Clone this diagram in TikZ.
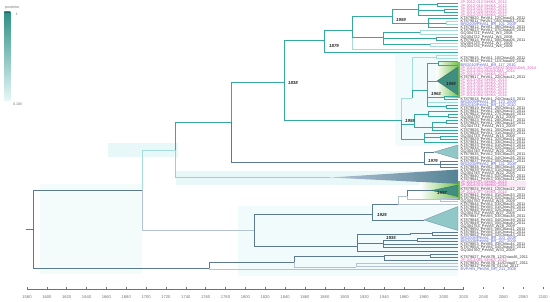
\documentclass[tikz,border=0pt]{standalone}
\usepackage{fontspec}
\setmainfont{Liberation Sans}
\usetikzlibrary{positioning}
\definecolor{hiteal}{HTML}{35A99D}
\definecolor{midslate}{HTML}{5C7A92}
\definecolor{loslate}{HTML}{B4C2D6}
\definecolor{paleteal}{HTML}{A3DCD8}
\definecolor{glow}{HTML}{E8F8F8}
\definecolor{leafgreen}{HTML}{6EBE46}
\definecolor{cladeteal}{HTML}{3F8E80}
\definecolor{softteal}{HTML}{8FC8C7}
\definecolor{pk}{HTML}{D957B8}
\definecolor{bl}{HTML}{5560D2}
\definecolor{dk}{HTML}{3C3C3C}
\definecolor{axisgray}{HTML}{707070}

\begin{document}
\begin{tikzpicture}[x=1pt,y=-1pt,
  hi branch/.style={draw=hiteal,line width=0.9pt},
  mid branch/.style={draw=midslate,line width=0.9pt},
  lo branch/.style={draw=loslate,line width=0.9pt},
  pale branch/.style={draw=paleteal,line width=0.9pt},
  hpd/.style={fill=glow,draw=none},
  clade tri/.style={fill=softteal,draw=midslate!80,line width=0.4pt},
  green tri/.style={fill=cladeteal,draw=cladeteal!80!black,line width=0.4pt},
  age/.style={font=\fontsize{4.4}{5}\selectfont\bfseries\itshape,inner sep=0pt,text=black!85},
  tip label/.style={font=\fontsize{3.9}{3.9}\selectfont,inner sep=0pt},
  axis text/.style={font=\fontsize{4.1}{5}\selectfont,text=axisgray,inner sep=0pt}]
\useasboundingbox (0,0) rectangle (550,302);

% age bars and highlights
\fill[hpd,opacity=0.5] (40,184) rectangle (142,274);
\fill[hpd] (108,143) rectangle (178,157);
\fill[hpd] (176,171) rectangle (458,185);
\fill[hpd,opacity=0.6] (238,206) rectangle (458,276);
\fill[hpd,opacity=0.6] (395,54) rectangle (458,146);
\shade[left color=white,right color=leafgreen] (436,63) rectangle (460,98);
\shade[left color=white,right color=leafgreen] (420,182) rectangle (460,200);
\fill[pk!14] (461,181) rectangle (526,188);

% tree nodes
\coordinate (rootstub) at (26,229);
\coordinate (root) at (33,229);
\coordinate (n1) at (142,190);
\coordinate (n2) at (175,150);
\coordinate (n3) at (231,122);
\coordinate (n1838) at (284,82);
\coordinate (n1879) at (324,40);
\coordinate (a1) at (352,30);
\coordinate (a1959) at (392,16);
\coordinate (a4) at (418,9.2);
\coordinate (a4a) at (437,4.55);
\coordinate (a4b) at (444,10.75);
\coordinate (a5) at (428,23);
\coordinate (a5a) at (446,23.15);
\coordinate (a3) at (383,37);
\coordinate (a3a) at (420,32.45);
\coordinate (a3b) at (436,38.65);
\coordinate (a3c) at (430,44.85);
\coordinate (n1955) at (401,120);
\coordinate (b1) at (412,98);
\coordinate (b1a) at (436,57.25);
\coordinate (n1963) at (427,90);
\coordinate (c1) at (438,63.45);
\coordinate (x1994) at (437,81);
\coordinate (c2) at (444,97.55);
\coordinate (c3) at (446,106.85);
\coordinate (b2) at (414,124);
\coordinate (d1) at (428,114.6);
\coordinate (d1a) at (448,116.15);
\coordinate (d2) at (432,127);
\coordinate (d2a) at (446,122.35);
\coordinate (d3) at (424,139);
\coordinate (d3a) at (440,137.85);
\coordinate (n1976) at (424,162);
\coordinate (x1976) at (434,152);
\coordinate (e1) at (440,164.2);
\coordinate (x178) at (330,177.5);
\coordinate (n4) at (254,230);
\coordinate (n1925) at (372,214);
\coordinate (f1) at (398,204);
\coordinate (f2) at (407,196);
\coordinate (f2a) at (440,199.85);
\coordinate (x1997) at (432,190.5);
\coordinate (x222) at (424,220);
\coordinate (n5) at (357,246);
\coordinate (g1) at (410,234);
\coordinate (g1a) at (432,233.95);
\coordinate (n1935) at (383,243);
\coordinate (g2) at (417,240.15);
\coordinate (n6) at (209,268);
\coordinate (n7) at (294,262);
\coordinate (h1) at (384,256);
\coordinate (h1a) at (430,255.65);
\coordinate (h2) at (356,267);
\foreach \i in {0,...,86}
  \coordinate (t\i) at (458,{3+3.1*\i});

% branches
\begin{scope}
\foreach \p/\q in {n1/n4,n2/x178,f1/f2,f1/t65,f2/f2a,f2a/t63,f2a/t64,n6/t86,n7/h2,h2/t84,h2/t85}
  \draw[lo branch] (\p) |- (\q);
\foreach \p/\q in {n1/n2,a1/t15,a5a/t6,a5a/t7,a3a/t9,a3a/t10,a3c/t13,a3c/t14,n1955/b1,b1/b1a,b1a/t17,b1a/t18,n1963/t32}
  \draw[pale branch] (\p) |- (\q);
\draw[mid branch] (rootstub) -- (root);
\foreach \p/\q in {root/n1,root/n6,n3/n1976,n1976/x1976,n1976/e1,e1/t51,e1/t52,e1/t53,n4/n1925,n4/n5,n1925/f1,n1925/x222,f2/x1997,n5/g1,n5/n1935,n5/t80,g1/g1a,g1a/t74,g1a/t75,n1935/g2,n1935/t78,n1935/t79,g2/t76,g2/t77,n6/n7,n7/h1,h1/h1a,h1/t83,h1a/t81,h1a/t82}
  \draw[mid branch] (\p) |- (\q);
\foreach \p/\q in {n2/n3,n3/n1838,n1838/n1879,n1838/n1955,n1879/a1,n1879/t16,a1/a1959,a1/a3,a1959/a4,a1959/a5,a4/a4a,a4/a4b,a4/t4,a4a/t0,a4a/t1,a4b/t2,a4b/t3,a5/t5,a5/a5a,a5/t8,a3/a3a,a3/a3b,a3/a3c,a3b/t11,a3b/t12,n1955/b2,n1955/d3,b1/n1963,n1963/c1,n1963/x1994,n1963/c2,n1963/c3,c1/t19,c1/t20,c2/t30,c2/t31,c3/t33,c3/t34,b2/d1,b2/d2,d1/t35,d1/d1a,d1a/t36,d1a/t37,d2/d2a,d2/t40,d2/t41,d2a/t38,d2a/t39,d3/t42,d3/d3a,d3/t45,d3a/t43,d3a/t44}
  \draw[hi branch] (\p) |- (\q);
\end{scope}

% collapsed clades
\shade[left color=loslate,right color=midslate!80!hiteal] (x178) -- (458,169.5) -- (458,183.8) -- cycle;
\filldraw[green tri] (x1994) -- (458,67) -- (458,95) -- cycle;
\filldraw[clade tri] (x1976) -- (458,145) -- (458,159) -- cycle;
\filldraw[green tri] (x1997) -- (458,185) -- (458,196.5) -- cycle;
\filldraw[clade tri] (x222) -- (458,206.5) -- (458,230.5) -- cycle;

% node ages
\node[age] (l1838) at (293,83) {1838};
\node[age] (l1879) at (334,46) {1879};
\node[age] (l1959) at (401,20) {1959};
\node[age] (l1994) at (451,84) {1994};
\node[age] (l1963) at (436,94) {1963};
\node[age] (l1955) at (410,121) {1955};
\node[age] (l1976) at (433,161) {1976};
\node[age] (l1997) at (442,193) {1997};
\node[age] (l1925) at (382,215) {1925};
\node[age] (l1935) at (391,237.5) {1935};

% tip labels
\foreach \r/\col/\txt in {
  0/pk/{JP-2012-012-SHIKA\_2012},1/pk/{JP-2012-016-SHIKA\_2012},2/pk/{JP-2013-021-SHIKA\_2013},
  3/pk/{JP-2013-028-SHIKA\_2013},4/pk/{JP-2012-033-SHIKA\_2012},
  5/dk/{KT879820\_PeVA1\_12/Chiau01\_2011},6/dk/{KT879811\_PeVA1\_05/Chiau03\_2011},
  7/bl/{BR/2009/PeVA1\_BR\_101\_2009},8/dk/{KT879812\_PeVA1\_06/Chiau04\_2011},
  9/dk/{KT879813\_PeVA1\_07/Chiau05\_2011},10/dk/{GQ304721\_PeVA1\_W3\_2008},
  11/dk/{GQ304722\_PeVA1\_W4\_2008},12/dk/{KT879814\_PeVA1\_08/Chiau06\_2011},
  13/dk/{GQ304725\_PeVA1\_W7\_2009},14/dk/{GQ304726\_PeVA1\_W8\_2009},
  18/dk/{KT879815\_PeVA1\_10/Chiau08\_2011},19/dk/{KT879816\_PeVA1\_11/Chiau09\_2011},
  20/bl/{BR/2010/PeVA1\_BR\_117\_2010},21/pk/{JP-2014-041-NAGASAKI-ANAGUMA\_2014},
  22/pk/{JP-2014-044-ANAGUMA\_2014},23/pk/{JP-2013-047-SHIKA\_2013},
  24/dk/{KT879817\_PeVA1\_22/Chiau12\_2011},25/pk/{JP-2013-052-SHIKA\_2013},
  26/pk/{JP-2013-055-SHIKA\_2013},27/pk/{JP-2013-058-SHIKA\_2013},
  28/pk/{JP-2014-061-SHIKA\_2014},29/pk/{JP-2014-063-SHIKA\_2014},
  30/pk/{JP-2014-066-SHIKA\_2014},31/dk/{KT879818\_PeVA1\_24/Chiau13\_2011},
  32/bl/{BR/2009/PeVA1\_BR\_123\_2009},33/bl/{BR/2010/PeVA1\_BR\_125\_2010},
  34/dk/{KT879819\_PeVA1\_25/Chiau14\_2011},35/dk/{KT879821\_PeVA1\_26/Chiau15\_2011},
  36/dk/{KT879822\_PeVA1\_27/Chiau16\_2011},37/dk/{GQ304730\_PeVA1\_W12\_2009},
  38/dk/{KT879823\_PeVA1\_28/Chiau17\_2011},39/dk/{KT879825\_PeVA1\_29/Chiau18\_2011},
  40/dk/{GQ304731\_PeVA1\_W13\_2009},41/dk/{KT879826\_PeVA1\_30/Chiau19\_2011},
  42/dk/{KT879828\_PeVA1\_31/Chiau20\_2011},43/dk/{GQ304733\_PeVA1\_W15\_2008},
  44/dk/{KT879829\_PeVA1\_32/Chiau21\_2011},45/dk/{KT879831\_PeVA1\_33/Chiau22\_2011},
  46/dk/{KT879833\_PeVA2\_01/Chiau23\_2011},47/dk/{KT879834\_PeVA2\_02/Chiau24\_2011},
  48/dk/{GQ304740\_PeVA2\_W20\_2008},49/dk/{KT879835\_PeVA2\_03/Chiau25\_2011},
  50/dk/{KT879836\_PeVA2\_04/Chiau26\_2011},51/dk/{KT879837\_PeVA2\_05/Chiau27\_2011},
  52/bl/{BR/2009/PeVA2\_BR\_131\_2009},53/dk/{KT879838\_PeVA2\_06/Chiau28\_2011},
  54/dk/{KT879839\_PeVA3\_01/Chiau29\_2011},55/dk/{GQ304745\_PeVA3\_W22\_2008},
  56/dk/{KT879840\_PeVA3\_02/Chiau30\_2011},57/dk/{KT879841\_PeVA3\_03/Chiau31\_2011},
  58/pk/{JP-2013-071-SHIKA\_2013},59/pk/{JP-2014-074-SHIKA\_2014},
  60/dk/{KT879824\_PeVA1\_12/Chiau12\_2011},61/pk/{JP-2014-077-SHIKA\_2014},
  62/dk/{KT879842\_PeVA4\_01/Chiau33\_2011},63/dk/{KT879843\_PeVA4\_02/Chiau34\_2011},
  64/dk/{GQ304750\_PeVA4\_W25\_2009},65/dk/{KT879844\_PeVA4\_03/Chiau35\_2011},
  66/dk/{KT879845\_PeVA5\_01/Chiau36\_2011},67/dk/{KT879846\_PeVA5\_02/Chiau37\_2011},
  68/dk/{GQ304752\_PeVA5\_W27\_2008},69/dk/{KT879847\_PeVA5\_03/Chiau38\_2011},
  70/dk/{KT879848\_PeVA5\_04/Chiau39\_2011},71/dk/{KT879849\_PeVA5\_05/Chiau40\_2011},
  72/dk/{GQ304754\_PeVA5\_W29\_2009},73/dk/{KT879850\_PeVA5\_06/Chiau41\_2011},
  74/dk/{KT879851\_PeVA6\_01/Chiau42\_2011},75/dk/{KT879852\_PeVA6\_02/Chiau43\_2011},
  76/bl/{BR/2008/PeVA6\_BR\_203\_2008},77/bl/{BR/2009/PeVA6\_BR\_207\_2009},
  78/dk/{KT879853\_PeVA6\_03/Chiau44\_2011},79/dk/{KT879854\_PeVA6\_04/Chiau45\_2011},
  80/dk/{GQ304760\_PeVA6\_W33\_2008},82/dk/{KT879827\_PeVA7B\_12/Chiau46\_2011},
  83/pk/{JP-2013-081-SHIKA\_2013},84/dk/{KT879830\_PeVA7B\_14/Chiau07\_2011},
  85/dk/{KT879832\_PeVA7B\_01/Jul\_2011},86/bl/{BVP/HN\_PeVA6\_BR\_211\_2008}}
  \node[tip label,text=\col,right=2.5pt of t\r] (l\r) {\txt};

% posterior legend
\shade[top color=hiteal!85!black,bottom color=glow] (4.3,12) rectangle (10.3,101);
\draw[hiteal!60!black,line width=0.5pt] (4.3,12) -- (10.3,12);
\node[axis text,anchor=west,font=\fontsize{3.6}{4}\selectfont] (lpost) at (5,7.5) {posterior};
\node[axis text,font=\fontsize{3.6}{4}\selectfont] (lmax) at (16.7,14) {1};
\node[axis text,anchor=west,font=\fontsize{3.6}{4}\selectfont] (lmin) at (13,104.5) {0.165};

% time axis
\draw[axisgray,line width=0.5pt] (27,289) -- (463.7,289);
\foreach \yr in {1580,1600,...,2100}{
  \draw[axisgray,line width=0.4pt] ({27+(\yr-1580)*0.9925},287.5) -- ++(0,2);
  \node[axis text] (y\yr) at ({27+(\yr-1580)*0.9925},297.5) {\yr};
}
\end{tikzpicture}
\end{document}
